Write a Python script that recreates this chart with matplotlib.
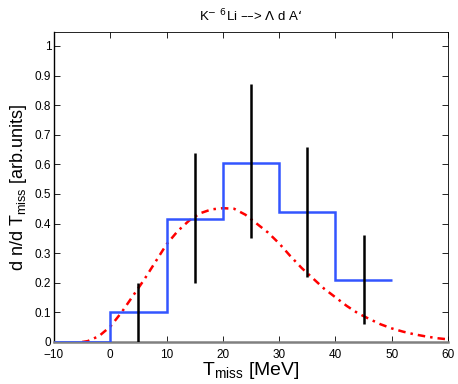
import matplotlib
matplotlib.use("Agg")
import matplotlib.pyplot as plt
import numpy as np

plt.rcParams['font.family'] = ['Liberation Sans', 'DejaVu Sans']

# Histogram (bin edges and values)
bin_edges = [-10, 0, 10, 20, 30, 40, 50]
hist_vals = [0.0, 0.10, 0.415, 0.605, 0.44, 0.21]

# Error bars
err_x = [5, 15, 25, 35, 45]
err_lo = [0.0, 0.20, 0.35, 0.22, 0.06]
err_hi = [0.20, 0.64, 0.87, 0.66, 0.36]

# Theory curve (red dash-dot)
curve_x = [-5, -4, -2, 0, 2, 4, 6, 8, 10, 12, 14, 16, 18, 20, 22, 24, 26, 28,
           30, 32, 34, 36, 38, 40, 42, 44, 46, 48, 50, 52, 54, 56, 58, 60]
curve_y = [0.0, 0.003, 0.02, 0.052, 0.10, 0.155, 0.21, 0.27, 0.33, 0.375,
           0.41, 0.435, 0.448, 0.452, 0.45, 0.43, 0.40, 0.37, 0.333, 0.29,
           0.25, 0.215, 0.18, 0.151, 0.122, 0.097, 0.078, 0.06, 0.046, 0.035,
           0.026, 0.019, 0.013, 0.009]

x_ticks = [-10, 0, 10, 20, 30, 40, 50, 60]
y_ticks = [0, 0.1, 0.2, 0.3, 0.4, 0.5, 0.6, 0.7, 0.8, 0.9, 1]
y_ticklabels = ['0', '0.1', '0.2', '0.3', '0.4', '0.5', '0.6', '0.7', '0.8', '0.9', '1']

fig = plt.figure(figsize=(4.58, 3.84), dpi=100)
ax = fig.add_axes([54/458, 1 - 342/384, (448-54)/458, (342-32)/384])

ax.plot(curve_x, curve_y, color='red', linestyle=(0, (3, 2, 1, 2)), linewidth=1.8, zorder=2)
ax.stairs(hist_vals, bin_edges, color='#3355ff', linewidth=1.8, baseline=None, zorder=3)
ax.vlines(err_x, err_lo, err_hi, color='black', linewidth=1.8, zorder=4)

ax.set_xlim(-10, 60)
ax.set_ylim(0, 1.047)
ax.set_xticks(x_ticks)
ax.set_yticks(y_ticks)
ax.set_yticklabels(y_ticklabels)
ax.tick_params(direction='in', top=True, right=True, labelsize=8.5, length=4, width=0.6, pad=2)
ax.tick_params(axis='x', pad=5)
for s in ['top', 'right']:
    ax.spines[s].set_linewidth(0.6)
ax.spines['left'].set_linewidth(1.0)
ax.spines['bottom'].set_color('#808080')
ax.spines['bottom'].set_linewidth(1.8)

ax.set_xlabel(r'T$_{\mathregular{miss}}$ [MeV]', fontsize=14, labelpad=-1)
ax.set_ylabel(r'd n/d T$_{\mathregular{miss}}$ [arb.units]', fontsize=13, labelpad=4)
ax.set_title(r'K$^{-}$ $^{6}$Li ––> $\Lambda$ d A‘', fontsize=9.5, pad=8)

fig.savefig('out.png', dpi=100)
